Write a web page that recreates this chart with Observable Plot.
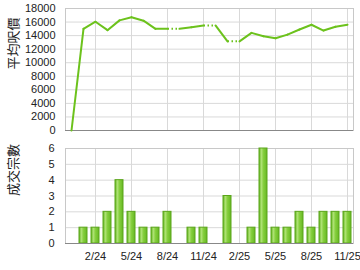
<!DOCTYPE html>
<html><head><meta charset="utf-8">
<script src="https://cdn.jsdelivr.net/npm/d3@7"></script>
<script src="https://cdn.jsdelivr.net/npm/@observablehq/plot@0.6"></script>
<style>
body{margin:0;background:#fff;}
#chart svg{display:block;}
</style></head><body><div id="chart"></div>
<script>
const months = ["12/23","1/24","2/24","3/24","4/24","5/24","6/24","7/24","8/24","9/24","10/24","11/24","12/24","1/25","2/25","3/25","4/25","5/25","6/25","7/25","8/25","9/25","10/25","11/25"];
const avgPrice = [0,15000,16050,14800,16250,16700,16200,15000,15000,15000,15250,15500,15500,13150,13150,14400,13900,13600,14150,14900,15600,14750,15300,15600];
const counts = [0,1,1,2,4,2,1,1,2,0,1,1,0,3,0,1,6,1,1,2,1,2,2,2];
const tickMonths = ["2/24","5/24","8/24","11/24","2/25","5/25","8/25","11/25"];
const priceTicks = [0,2000,4000,6000,8000,10000,12000,14000,16000,18000];
const countTicks = [0,1,2,3,4,5,6];
const priceLabel = "平均呎價";
const countLabel = "成交宗數";

const segs = months.slice(1).map((m, j) => {
  const i = j + 1;
  return {x1: months[i-1], y1: avgPrice[i-1], x2: m, y2: avgPrice[i], dotted: counts[i] === 0};
});
const bars = months.map((m, i) => ({month: m, count: counts[i]})).filter(d => d.count > 0);

const font = "Arial, 'Liberation Sans', sans-serif";
const cjk = "'Noto Sans CJK TC', 'Noto Sans CJK SC', sans-serif";
const gridColor = "#d9d9d9";
const xOpts = {type: "band", domain: months, paddingInner: 0.33, paddingOuter: 0.165};
const plain = d => String(d);

const topChart = Plot.plot({
  width: 360, height: 140, marginLeft: 65, marginRight: 7, marginTop: 8, marginBottom: 10,
  style: {fontFamily: font, fontSize: "11px", color: "#222", background: "white"},
  x: {...xOpts, axis: null},
  y: {domain: [0, 18000], axis: null},
  marks: [
    Plot.gridY(priceTicks, {stroke: gridColor, strokeOpacity: 1}),
    Plot.gridX(tickMonths, {stroke: gridColor, strokeOpacity: 1}),
    Plot.frame({stroke: "#c8c8c8"}),
    Plot.ruleY([0], {stroke: "#888"}),
    Plot.axisY(priceTicks, {tickSize: 0, tickPadding: 10, label: null, fill: "#222", tickFormat: plain}),
    Plot.text([priceLabel], {frameAnchor: "left", dx: -52, rotate: -90, fontSize: 13, fontFamily: cjk, fill: "#222"}),
    Plot.link(segs.filter(d => !d.dotted), {x1: "x1", y1: "y1", x2: "x2", y2: "y2", stroke: "#6cc21c", strokeWidth: 2, strokeLinecap: "round"}),
    Plot.link(segs.filter(d => d.dotted), {x1: "x1", y1: "y1", x2: "x2", y2: "y2", stroke: "#6cc21c", strokeWidth: 2, strokeDasharray: "1.5,2.5"})
  ]
});

const bottomChart = Plot.plot({
  width: 360, height: 130, marginLeft: 65, marginRight: 7, marginTop: 8, marginBottom: 27,
  style: {fontFamily: font, fontSize: "11px", color: "#222", background: "white"},
  x: {...xOpts, axis: null},
  y: {domain: [0, 6], axis: null},
  marks: [
    () => {
      const defs = d3.create("svg:defs");
      const g = defs.append("linearGradient").attr("id", "barGrad").attr("x1", 0).attr("x2", 1).attr("y1", 0).attr("y2", 0);
      [[0, "#62b41e"], [0.3, "#aee274"], [0.55, "#86cf3e"], [1, "#66b822"]].forEach(([o, c]) =>
        g.append("stop").attr("offset", o).attr("stop-color", c));
      return defs.node();
    },
    Plot.gridY(countTicks, {stroke: gridColor, strokeOpacity: 1}),
    Plot.gridX(tickMonths, {stroke: gridColor, strokeOpacity: 1}),
    Plot.frame({stroke: "#c8c8c8"}),
    Plot.barY(bars, {x: "month", y: "count", fill: "url(#barGrad)", stroke: "#5aa51a", strokeWidth: 1}),
    Plot.ruleY([0], {stroke: "#888"}),
    Plot.axisY(countTicks, {tickSize: 0, tickPadding: 11, label: null, fill: "#222", tickFormat: plain}),
    Plot.axisX(tickMonths, {tickSize: 0, tickPadding: 9, label: null, fill: "#222"}),
    Plot.text([countLabel], {frameAnchor: "left", dx: -52, rotate: -90, fontSize: 13, fontFamily: cjk, fill: "#222"})
  ]
});

document.getElementById("chart").append(topChart, bottomChart);
</script></body></html>
